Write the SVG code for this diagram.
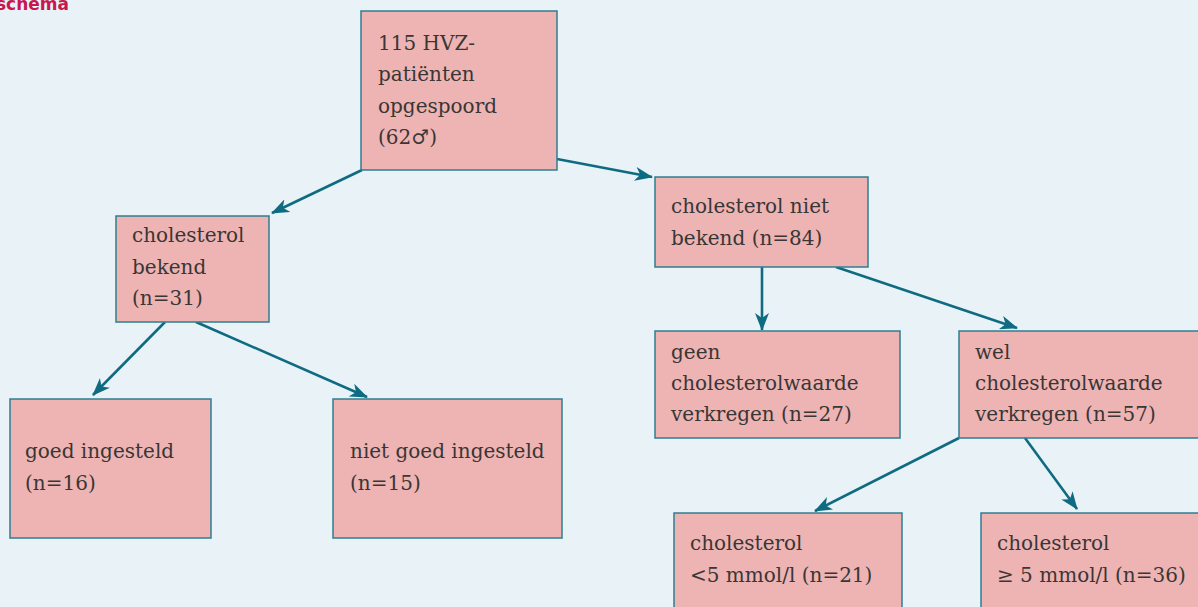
<svg xmlns="http://www.w3.org/2000/svg" width="1198" height="607" viewBox="0 0 1198 607">
<defs>
<style>
.bg{fill:#e9f3f7}
.box{fill:#edb4b3;stroke:#2f7d91;stroke-width:1.5}
.t{font-family:"DejaVu Serif","Liberation Serif",serif;font-size:20px;fill:#3a3636}
.c{stroke:#0e6b82;stroke-width:2.6;fill:none;marker-end:url(#ah)}
.title{font-family:"DejaVu Sans","Liberation Sans",sans-serif;font-weight:bold;font-size:17px;fill:#c8174f}
</style>
<marker id="ah" viewBox="0 0 18 14" refX="17" refY="7" markerWidth="18" markerHeight="14" markerUnits="userSpaceOnUse" orient="auto">
<path d="M0,0 L18,7 L0,14 L5,7 Z" fill="#0e6b82"/>
</marker>
</defs>
<rect class="bg" x="0" y="0" width="1198" height="607"/>
<text class="title" x="-4" y="10">schema</text>
<g id="connectors">
<line class="c" x1="362" y1="170" x2="272" y2="213"/>
<line class="c" x1="557" y1="159" x2="652" y2="177"/>
<line class="c" x1="165" y1="322" x2="93" y2="395"/>
<line class="c" x1="196" y1="322" x2="367" y2="397"/>
<line class="c" x1="762" y1="267" x2="762" y2="330"/>
<line class="c" x1="836" y1="267" x2="1017" y2="328"/>
<line class="c" x1="959" y1="438" x2="815" y2="511"/>
<line class="c" x1="1025" y1="438" x2="1077" y2="509"/>
</g>
<g id="n-root"><rect class="box" x="361" y="11" width="196" height="159"/>
<text class="t" x="378" y="50">115 HVZ-</text><text class="t" x="378" y="81">patiënten</text><text class="t" x="378" y="113">opgespoord</text><text class="t" x="378" y="144">(62♂)</text></g>
<g id="n-bekend"><rect class="box" x="116" y="216" width="153" height="106"/>
<text class="t" x="132" y="242">cholesterol</text><text class="t" x="132" y="274">bekend</text><text class="t" x="132" y="305">(n=31)</text></g>
<g id="n-nietbekend"><rect class="box" x="655" y="177" width="213" height="90"/>
<text class="t" x="671" y="213">cholesterol niet</text><text class="t" x="671" y="245">bekend (n=84)</text></g>
<g id="n-goed"><rect class="box" x="10" y="399" width="201" height="139"/>
<text class="t" x="25" y="458">goed ingesteld</text><text class="t" x="25" y="490">(n=16)</text></g>
<g id="n-nietgoed"><rect class="box" x="333" y="399" width="229" height="139"/>
<text class="t" x="350" y="458">niet goed ingesteld</text><text class="t" x="350" y="490">(n=15)</text></g>
<g id="n-geen"><rect class="box" x="655" y="331" width="245" height="107"/>
<text class="t" x="671" y="359">geen</text><text class="t" x="671" y="390">cholesterolwaarde</text><text class="t" x="671" y="421">verkregen (n=27)</text></g>
<g id="n-wel"><rect class="box" x="959" y="331" width="245" height="107"/>
<text class="t" x="975" y="359">wel</text><text class="t" x="975" y="390">cholesterolwaarde</text><text class="t" x="975" y="421">verkregen (n=57)</text></g>
<g id="n-lt5"><rect class="box" x="674" y="513" width="228" height="98"/>
<text class="t" x="690" y="550">cholesterol</text><text class="t" x="690" y="582">&lt;5 mmol/l (n=21)</text></g>
<g id="n-ge5"><rect class="box" x="981" y="513" width="230" height="98"/>
<text class="t" x="997" y="550">cholesterol</text><text class="t" x="997" y="582">≥ 5 mmol/l (n=36)</text></g>
</svg>
